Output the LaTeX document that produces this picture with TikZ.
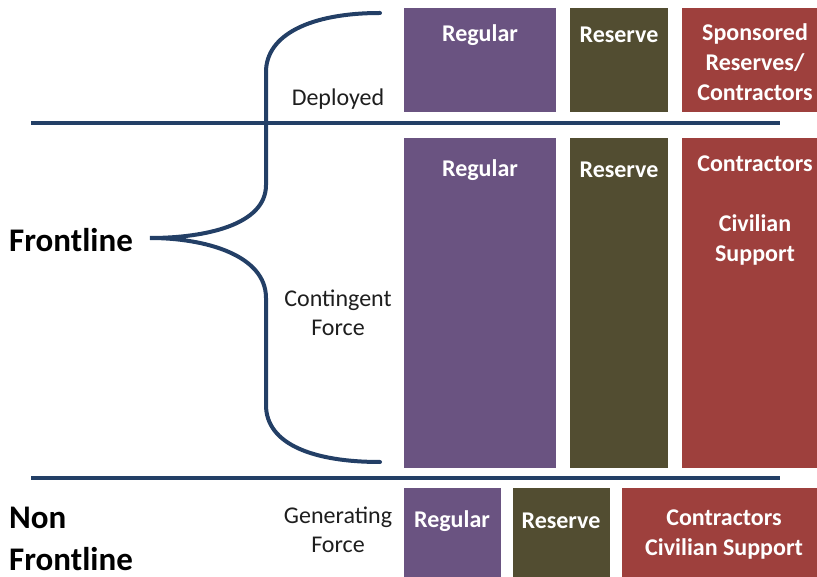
\documentclass[tikz,border=0pt]{standalone}
\usepackage{fontspec}
\setmainfont{Carlito}
\definecolor{regcol}{HTML}{6A5381}
\definecolor{rescol}{HTML}{524D31}
\definecolor{concol}{HTML}{9E403D}
\definecolor{linecol}{HTML}{233F66}
\definecolor{labcol}{HTML}{1E1E1E}
\begin{document}
\begin{tikzpicture}[x=1pt,y=-1pt,
  box/.style={draw=none,inner sep=0pt,anchor=north west},
  boxtext/.style={text=white,font=\fontsize{24}{30}\selectfont\bfseries,align=center,inner sep=0pt},
  tier/.style={text=labcol,font=\fontsize{24}{29}\selectfont,align=center,inner sep=0pt},
  side/.style={text=black,font=\fontsize{33}{42}\selectfont\bfseries,align=left,anchor=west,inner sep=0pt},
  divider/.style={draw=linecol,line width=4pt},
  bracepath/.style={draw=linecol,line width=4pt,line cap=round}]
\useasboundingbox (0,0) rectangle (817,577);

% Deployed row
\node[box,fill=regcol,minimum width=152pt,minimum height=104pt] (dreg) at (404,8) {};
\node[box,fill=rescol,minimum width=98pt,minimum height=104pt] (dres) at (570,8) {};
\node[box,fill=concol,minimum width=135pt,minimum height=104pt] (dcon) at (682,8) {};
\node[boxtext] (dregt) at (480,35) {Regular};
\node[boxtext] (drest) at (619,35) {Reserve};
\node[boxtext,anchor=north] (dcont) at (755,23) {Sponsored\\Reserves/\\Contractors};

% Contingent row
\node[box,fill=regcol,minimum width=152pt,minimum height=330pt] (creg) at (404,138) {};
\node[box,fill=rescol,minimum width=98pt,minimum height=330pt] (cres) at (570,138) {};
\node[box,fill=concol,minimum width=135pt,minimum height=330pt] (ccon) at (682,138) {};
\node[boxtext] (cregt) at (480,170) {Regular};
\node[boxtext] (crest) at (619,170) {Reserve};
\node[boxtext] (ccont) at (755,164) {Contractors};
\node[boxtext] (cciv) at (755,240) {Civilian\\Support};

% Generating row
\node[box,fill=regcol,minimum width=97pt,minimum height=89pt] (greg) at (404,488) {};
\node[box,fill=rescol,minimum width=97pt,minimum height=89pt] (gres) at (513,488) {};
\node[box,fill=concol,minimum width=195pt,minimum height=89pt] (gcon) at (622,488) {};
\node[boxtext] (gregt) at (452,521) {Regular};
\node[boxtext] (grest) at (561,521) {Reserve};
\node[boxtext] (gcont) at (724,535) {Contractors\\Civilian Support};

% dividers
\coordinate (t1) at (31,123); \coordinate (t2) at (780,123);
\coordinate (b1) at (31,478); \coordinate (b2) at (780,478);
\draw[divider] (t1) -- (t2);
\draw[divider] (b1) -- (b2);

% tier labels
\node[tier] (dep) at (338,99) {Deployed};
\node[tier] (cont) at (338,313) {Contingent\\Force};
\node[tier] (gen) at (338,530) {Generating\\Force};

% side labels
\node[side] (front) at (9,240) {Frontline};
\node[side] (nonfront) at (9,539) {Non\\Frontline};

% curly brace
\coordinate (btop) at (380,13);
\coordinate (btip) at (150,238);
\coordinate (bbot) at (380,462);
\draw[bracepath] (btop) .. controls (310,13) and (266,35) .. (266,72)
  -- (266,185) .. controls (266,225) and (205,238) .. (btip)
  .. controls (205,238) and (266,255) .. (266,298)
  -- (266,405) .. controls (266,445) and (315,462) .. (bbot);
\end{tikzpicture}
\end{document}
